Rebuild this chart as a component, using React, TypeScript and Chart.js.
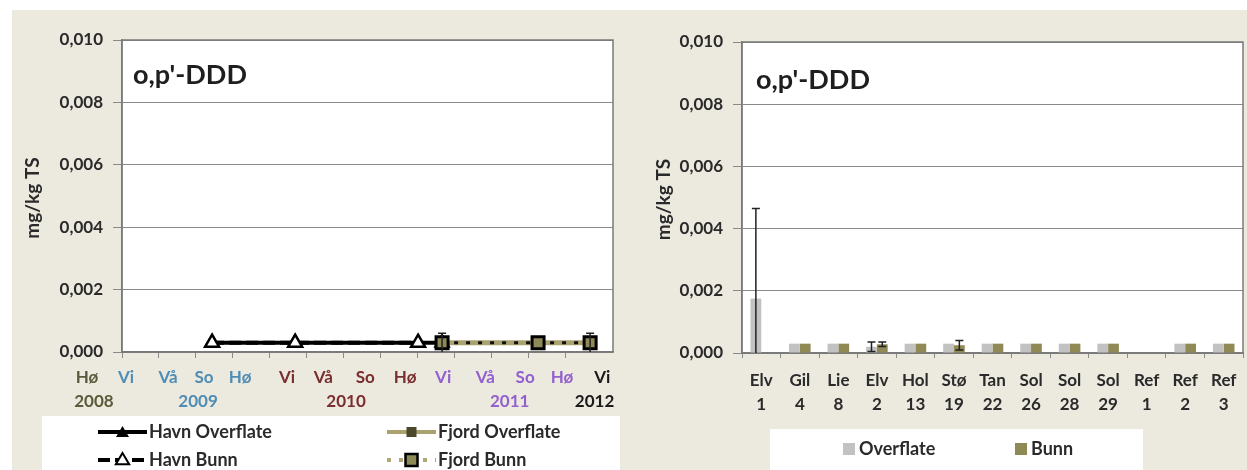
import React, { useEffect, useRef } from "react";
import { Chart, registerables } from "chart.js";
Chart.register(...registerables);

const FONT = "Lato, 'Open Sans', sans-serif";
const BEIGE = "#ECE9DF";
const GRID = "#8a8a8a";
const FRAME = "#7a7a7a";
const TXT = "#2a2a2a";

// ---------- Left chart data (time axis in quarter-steps from autumn 2008) ----------
const seasonLabels = ["Hø", "Vi", "Vå", "So", "Hø", "Vi", "Vå", "So", "Hø", "Vi", "Vå", "So", "Hø", "Vi"];
const seasonPos = [-0.95, 0.11, 1.25, 2.22, 3.2, 4.47, 5.45, 6.59, 7.67, 8.7, 9.84, 10.92, 11.92, 13.01];
const seasonYear = [0, 1, 1, 1, 1, 2, 2, 2, 2, 3, 3, 3, 3, 4];
const yearLabels = ["2008", "2009", "2010", "2011", "2012"];
const yearPos = [-0.76, 2.06, 6.07, 10.5, 12.8];
const yearColors = ["#5b5a3a", "#4f8db5", "#7a2e2e", "#9360cf", "#1a1a1a"];

const havnOverflateX = [2.44, 4.69, 8.67];
const havnOverflateY = [0.0003, 0.0003, 0.0003];
const havnBunnX = [2.44, 4.69, 8.02];
const havnBunnY = [0.0003, 0.0003, 0.0003];
const fjordOverflateX = [8.67, 11.27, 12.68];
const fjordOverflateY = [0.0003, 0.0003, 0.0003];
const fjordBunnX = [8.67, 11.27, 12.68];
const fjordBunnY = [0.0003, 0.0003, 0.0003];
const fjordBunnErr = [0.0003, 0, 0.0003];

// ---------- Right chart data ----------
const stations = [["Elv", "1"], ["Gil", "4"], ["Lie", "8"], ["Elv", "2"], ["Hol", "13"], ["Stø", "19"], ["Tan", "22"], ["Sol", "26"], ["Sol", "28"], ["Sol", "29"], ["Ref", "1"], ["Ref", "2"], ["Ref", "3"]];
const overflateVals = [0.00175, 0.0003, 0.0003, 0.0002, 0.0003, 0.0003, 0.0003, 0.0003, 0.0003, 0.0003, null, 0.0003, 0.0003];
const overflateErr = [0.0029, 0, 0, 0.00015, 0, 0, 0, 0, 0, 0, 0, 0, 0];
const bunnVals = [null, 0.0003, 0.0003, 0.00028, 0.0003, 0.00025, 0.0003, 0.0003, 0.0003, 0.0003, null, 0.0003, 0.0003];
const bunnErr = [0, 0, 0, 0.00007, 0, 0.00015, 0, 0, 0, 0, 0, 0, 0];

const yMax = 0.01;
const yStep = 0.002;
const chartTitle = "o,p'-DDD";
const yTitle = "mg/kg TS";

const fmt = (v: any) => Number(v).toFixed(3).replace(".", ",");
const pts = (xs: number[], ys: number[]) => xs.map((x, i) => ({ x, y: ys[i] }));

const framePlugin = {
  id: "frame",
  beforeDraw(chart: any) {
    const { ctx, chartArea: a } = chart;
    ctx.save();
    ctx.fillStyle = "#fff";
    ctx.fillRect(a.left, a.top, a.right - a.left, a.bottom - a.top);
    ctx.restore();
  },
  beforeDatasetsDraw(chart: any) {
    const { ctx, chartArea: a } = chart;
    ctx.save();
    ctx.strokeStyle = FRAME;
    ctx.lineWidth = 1.5;
    ctx.strokeRect(a.left, a.top, a.right - a.left, a.bottom - a.top);
    ctx.restore();
  },
};

const errorPlugin = {
  id: "errs",
  afterDatasetsDraw(chart: any) {
    const { ctx } = chart;
    const ys = chart.scales.y;
    chart.data.datasets.forEach((ds: any, di: number) => {
      if (!ds.errors) return;
      const meta = chart.getDatasetMeta(di);
      meta.data.forEach((el: any, i: number) => {
        const raw = ds.data[i];
        const v = raw == null ? null : typeof raw === "object" ? raw.y : raw;
        const e = ds.errors[i];
        if (v == null || !e) return;
        const x = el.x;
        const yTop = ys.getPixelForValue(v + e);
        const lo = v - e;
        const yBot = ys.getPixelForValue(Math.max(0, lo));
        ctx.save();
        ctx.strokeStyle = "#222";
        ctx.lineWidth = 1.5;
        ctx.beginPath();
        ctx.moveTo(x, yTop);
        ctx.lineTo(x, yBot);
        ctx.moveTo(x - 4, yTop);
        ctx.lineTo(x + 4, yTop);
        if (lo > 0) {
          ctx.moveTo(x - 4, yBot);
          ctx.lineTo(x + 4, yBot);
        }
        ctx.stroke();
        ctx.restore();
      });
    });
  },
};

function textPlugin(titleX: number, titleY: number, yTitleX: number) {
  return {
    id: "texts",
    afterDraw(chart: any) {
      const { ctx, chartArea: a } = chart;
      ctx.save();
      ctx.fillStyle = "#1e1e1e";
      ctx.font = `bold 27px ${FONT}`;
      ctx.textBaseline = "middle";
      ctx.textAlign = "left";
      ctx.fillText(chartTitle, titleX, titleY);
      ctx.translate(yTitleX, (a.top + a.bottom) / 2 + 2);
      ctx.rotate(-Math.PI / 2);
      ctx.textAlign = "center";
      ctx.font = `bold 19px ${FONT}`;
      ctx.fillStyle = TXT;
      ctx.fillText(yTitle, 0, 0);
      ctx.restore();
    },
  };
}

const seasonPlugin = {
  id: "seasons",
  afterDraw(chart: any) {
    const { ctx, chartArea: a } = chart;
    const xs = chart.scales.x;
    ctx.save();
    ctx.font = `bold 17px ${FONT}`;
    ctx.textAlign = "center";
    ctx.textBaseline = "middle";
    seasonLabels.forEach((s, i) => {
      ctx.fillStyle = yearColors[seasonYear[i]];
      ctx.fillText(s, xs.getPixelForValue(seasonPos[i]), a.bottom + 26);
    });
    yearLabels.forEach((s, i) => {
      ctx.fillStyle = yearColors[i];
      ctx.fillText(s, xs.getPixelForValue(yearPos[i]), a.bottom + 50);
    });
    ctx.restore();
  },
};

function tri(ctx: any, x: number, y: number, r: number, fill: string) {
  ctx.beginPath();
  ctx.moveTo(x, y - r);
  ctx.lineTo(x + r * 0.95, y + r * 0.6);
  ctx.lineTo(x - r * 0.95, y + r * 0.6);
  ctx.closePath();
  ctx.fillStyle = fill;
  ctx.fill();
  ctx.lineWidth = 2;
  ctx.strokeStyle = "#000";
  ctx.stroke();
}

const leftLegendPlugin = {
  id: "leftLegend",
  afterDraw(chart: any) {
    const ctx = chart.ctx;
    const ds = chart.data.datasets;
    ctx.save();
    ctx.fillStyle = "#fff";
    ctx.fillRect(30, 406, 578, 54);
    const rows = [422, 450];
    const cols = [86, 375];
    const items = [
      { c: 0, r: 0, d: ds[0] },
      { c: 1, r: 0, d: ds[2] },
      { c: 0, r: 1, d: ds[1] },
      { c: 1, r: 1, d: ds[3] },
    ];
    items.forEach((it, k) => {
      const x0 = cols[it.c];
      const y = rows[it.r];
      const x1 = x0 + 49;
      const cx = (x0 + x1) / 2;
      ctx.save();
      ctx.strokeStyle = it.d.borderColor;
      ctx.lineWidth = 4;
      if (it.d.borderDash) ctx.setLineDash(it.d.borderDash);
      if (k === 3) { ctx.strokeStyle = "#b1a878"; }
      ctx.beginPath();
      ctx.moveTo(x0, y);
      ctx.lineTo(x1, y);
      ctx.stroke();
      ctx.setLineDash([]);
      if (k === 0) tri(ctx, cx, y + 1, 5, "#000");
      if (k === 2) tri(ctx, cx, y, 7, "#fff");
      if (k === 1) { ctx.fillStyle = "#4a4a2a"; ctx.fillRect(cx - 5, y - 5, 10, 10); }
      if (k === 3) { ctx.fillStyle = "#8e8a58"; ctx.fillRect(cx - 6, y - 6, 12, 12); ctx.lineWidth = 2.5; ctx.strokeStyle = "#000"; ctx.strokeRect(cx - 6, y - 6, 12, 12); }
      ctx.restore();
      ctx.fillStyle = TXT;
      ctx.font = `bold 18px ${FONT}`;
      ctx.textBaseline = "middle";
      ctx.textAlign = "left";
      ctx.fillText(it.d.label, x1 + 2, y);
    });
    ctx.restore();
  },
};

const rightLegendPlugin = {
  id: "rightLegend",
  afterDraw(chart: any) {
    const ctx = chart.ctx;
    const ds = chart.data.datasets;
    ctx.save();
    ctx.fillStyle = "#fff";
    ctx.fillRect(140, 419, 373, 41);
    const xs = [213, 385];
    const y = 439;
    ds.forEach((d: any, i: number) => {
      ctx.fillStyle = d.backgroundColor;
      ctx.fillRect(xs[i], y - 6, 12, 12);
      ctx.fillStyle = TXT;
      ctx.font = `bold 18px ${FONT}`;
      ctx.textBaseline = "middle";
      ctx.textAlign = "left";
      ctx.fillText(d.label, xs[i] + 16, y);
    });
    ctx.restore();
  },
};

const yScale = (width: number) => ({
  min: 0,
  max: yMax,
  ticks: { stepSize: yStep, callback: fmt, color: TXT, font: { family: FONT, size: 17, weight: "bold" }, padding: 10 },
  grid: { color: GRID, lineWidth: 1, tickLength: 9 },
  border: { color: FRAME, width: 1.5 },
  afterFit: (s: any) => { s.width = width; },
});

export default function App() {
  const leftRef = useRef<HTMLCanvasElement>(null);
  const rightRef = useRef<HTMLCanvasElement>(null);

  useEffect(() => {
    document.body.style.margin = "0";
    const left = new Chart(leftRef.current as HTMLCanvasElement, {
      type: "line",
      data: {
        datasets: [
          { label: "Havn Overflate", data: pts(havnOverflateX, havnOverflateY), borderColor: "#000", backgroundColor: "#000", borderWidth: 4, pointStyle: "triangle", pointRadius: 6, pointBackgroundColor: "#000", pointBorderColor: "#000", order: 4 },
          { label: "Havn Bunn", data: pts(havnBunnX, havnBunnY), borderColor: "#000", backgroundColor: "#fff", borderWidth: 4, borderDash: [12, 5], pointStyle: "triangle", pointRadius: 8, pointBackgroundColor: "#fff", pointBorderColor: "#000", pointBorderWidth: 2.5, order: 3 },
          { label: "Fjord Overflate", data: pts(fjordOverflateX, fjordOverflateY), borderColor: "#aaa271", backgroundColor: "#4a4a2a", borderWidth: 5, pointStyle: "rect", pointRadius: 5, pointBackgroundColor: "#4a4a2a", pointBorderColor: "#4a4a2a", order: 2 },
          { label: "Fjord Bunn", data: pts(fjordBunnX, fjordBunnY), borderColor: "#111", backgroundColor: "#8e8a58", borderWidth: 3, borderDash: [4, 8], pointStyle: "rect", pointRadius: 8.5, pointBackgroundColor: "#8e8a58", pointBorderColor: "#000", pointBorderWidth: 3, order: 1, errors: fjordBunnErr } as any,
        ],
      },
      options: {
        animation: false,
        responsive: false,
        layout: { padding: { top: 30, right: 15, left: 0, bottom: 0 } },
        plugins: { legend: { display: false }, tooltip: { enabled: false } },
        scales: {
          x: {
            type: "linear",
            min: 0,
            max: 13.3,
            ticks: { display: false, stepSize: 1 },
            afterBuildTicks: (s: any) => { s.ticks = s.ticks.filter((t: any) => Number.isInteger(t.value)); },
            grid: { drawOnChartArea: false, drawTicks: true, tickLength: 6, color: GRID },
            border: { color: FRAME, width: 1.5 },
            afterFit: (s: any) => { s.height = 118; },
          },
          y: yScale(110) as any,
        },
      },
      plugins: [framePlugin, errorPlugin, textPlugin(121, 65, 21), seasonPlugin, leftLegendPlugin],
    });

    const right = new Chart(rightRef.current as HTMLCanvasElement, {
      type: "bar",
      data: {
        labels: stations,
        datasets: [
          { label: "Overflate", data: overflateVals, backgroundColor: "#c2c2c2", borderColor: "#a5a5a5", borderWidth: 0, errors: overflateErr } as any,
          { label: "Bunn", data: bunnVals, backgroundColor: "#8f8a55", borderWidth: 0, errors: bunnErr } as any,
        ],
      },
      options: {
        animation: false,
        responsive: false,
        datasets: { bar: { categoryPercentage: 0.56, barPercentage: 1 } },
        layout: { padding: { top: 32, right: 4, left: 0, bottom: 0 } },
        plugins: { legend: { display: false }, tooltip: { enabled: false } },
        scales: {
          x: {
            ticks: { color: TXT, font: { family: FONT, size: 17, weight: "bold", lineHeight: 1.45 }, padding: 10, maxRotation: 0, autoSkip: false },
            grid: { drawOnChartArea: false, drawTicks: true, tickLength: 5, color: GRID, offset: true },
            border: { color: FRAME, width: 1.5 },
            afterFit: (s: any) => { s.height = 117; },
          },
          y: yScale(112) as any,
        },
      },
      plugins: [framePlugin, errorPlugin, textPlugin(126, 70, 34), rightLegendPlugin],
    });

    return () => {
      left.destroy();
      right.destroy();
    };
  }, []);

  return (
    <div style={{ position: "relative", width: 1247, height: 470, background: "#fff", overflow: "hidden" }}>
      <div style={{ position: "absolute", left: 12, top: 10, width: 1235, height: 460, background: BEIGE }} />
      <canvas ref={leftRef} width={616} height={460} style={{ position: "absolute", left: 12, top: 10 }} />
      <canvas ref={rightRef} width={617} height={460} style={{ position: "absolute", left: 630, top: 10 }} />
    </div>
  );
}
